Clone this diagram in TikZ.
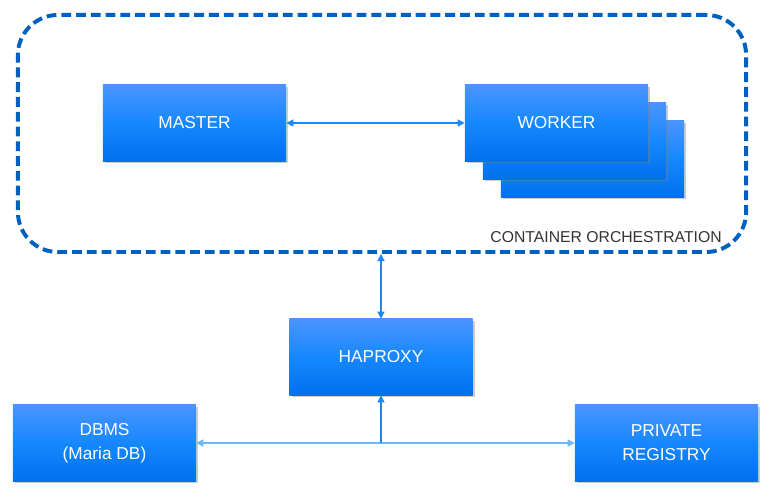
\documentclass[tikz,border=0pt]{standalone}
\usepackage{fontspec}
\setmainfont{Liberation Sans}
\usetikzlibrary{arrows.meta,shadows}

\definecolor{boxtop}{RGB}{74,148,255}
\definecolor{boxmid}{RGB}{22,136,255}
\definecolor{boxbot}{RGB}{0,112,236}
\definecolor{orchline}{RGB}{0,96,192}
\definecolor{linkblue}{RGB}{30,136,240}
\definecolor{linklight}{RGB}{110,182,255}

\tikzset{
  unit/.style={rectangle, minimum width=4.575cm, minimum height=1.9cm,
    top color=boxtop, bottom color=boxbot, middle color=boxmid,
    text=white, font=\fontsize{12.3}{17}\selectfont, align=center,
    drop shadow={shadow xshift=1.5pt, shadow yshift=-1.5pt, opacity=0.4}},
  link/.style={draw=linkblue, line width=0.9pt,
    >={Triangle[length=5pt,width=5pt]}},
  orch/.style={draw=orchline, line width=2.8pt, rounded corners=1cm,
    dash pattern=on 7pt off 3.5pt, minimum width=18.2cm, minimum height=5.925cm}
}

\begin{document}
\begin{tikzpicture}[x=0.025cm, y=-0.025cm]
    \useasboundingbox (0, 0) rectangle (772, 504);

    \node[orch] (cluster) at (382, 133.5) {};
    \node[anchor=base east, inner sep=0pt, text=black!80, font=\fontsize{11.2}{12}\selectfont] (clusterlabel) at (722, 243) {CONTAINER ORCHESTRATION};

    \node[unit] (master) at (194.5, 123) {MASTER};
    \node[unit] (worker3) at (592.5, 159) {};
    \node[unit] (worker2) at (574.5, 141) {};
    \node[unit] (worker) at (556.5, 123) {WORKER};

    \node[unit] (haproxy) at (381, 357) {HAPROXY};
    \node[unit] (dbms) at (104.5, 443) {DBMS\\(Maria DB)};
    \node[unit] (registry) at (666.5, 443) {PRIVATE\\REGISTRY};

    \draw[link, <->] (master.east) -- (worker.west);
    \draw[link, <->] (haproxy.north) -- (haproxy.north |- cluster.south);

    \coordinate (junction) at (haproxy.south |- dbms.east);
    \draw[link, <->, draw=linklight, line width=1.2pt] (dbms.east) -- (registry.west);
    \draw[link, ->] (junction) -- (haproxy.south);
\end{tikzpicture}
\end{document}
